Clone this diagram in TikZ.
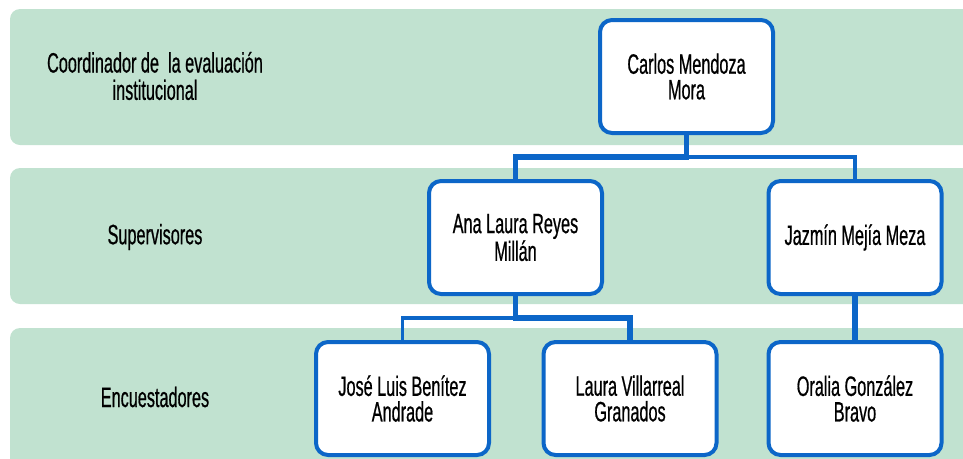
\documentclass[tikz,border=0pt]{standalone}
\usepackage{fontspec}
\setmainfont{Liberation Sans}[FakeStretch=0.58,FakeBold=0.6]
\begin{document}
\begin{tikzpicture}[x=0.75pt,y=0.75pt,yscale=-1,xscale=1,
  band/.style={fill={rgb, 255:red, 193; green, 226; blue, 208 }, rounded corners=7.5pt},
  person/.style={draw={rgb, 255:red, 12; green, 102; blue, 200 }, line width=3pt, fill=white, rounded corners=9pt, minimum width=129.75pt, minimum height=84.75pt, inner sep=0pt, align=center, font=\fontsize{21}{19.2}\selectfont},
  level/.style={align=center, inner sep=0pt, font=\fontsize{21}{20.5}\selectfont},
  thickline/.style={draw={rgb, 255:red, 12; green, 102; blue, 200 }, line width=3.8pt},
  thinline/.style={draw={rgb, 255:red, 12; green, 102; blue, 200 }, line width=2.4pt}]
\useasboundingbox (0,0) rectangle (963,458);

%Bands
\fill [band] (10,9) rectangle (980,145) ;
\fill [band] (10,168) rectangle (980,304) ;
\fill [band] (10,328) rectangle (980,475) ;

% Text Node
\node [level] (coord) at (155,76) {Coordinador de\ \ la evaluación\\institucional};
% Text Node
\node [level] (sup) at (155,237) {Supervisores};
% Text Node
\node [level] (enc) at (155,397) {Encuestadores};

%Boxes
\node [person] (carlos) at (686.5,76.5) {Carlos Mendoza\\Mora};
\node [person] (ana) at (515.5,237.5) {Ana Laura Reyes\\Millán};
\node [person] (jazmin) at (855,237.5) {Jazmín Mejía Meza};
\node [person] (jose) at (402.5,398.5) {José Luis Benítez\\Andrade};
\node [person] (laura) at (630,398.5) {Laura Villarreal\\Granados};
\node [person] (oralia) at (855,398.5) {Oralia González\\Bravo};

%Junctions
\coordinate (jtop) at (686.5,157);
\coordinate (jmid) at (515.5,318);

%Connectors
\draw [thinline] (jtop) -| (jazmin.north) ;
\draw [thinline] (jmid) -| (jose.north) ;
\draw [thickline] (carlos.south) -- (jtop) -| (ana.north) ;
\draw [thickline] (ana.south) -- (jmid) -| (laura.north) ;
\draw [thickline] (jazmin.south) -- (oralia.north) ;

\end{tikzpicture}
\end{document}
